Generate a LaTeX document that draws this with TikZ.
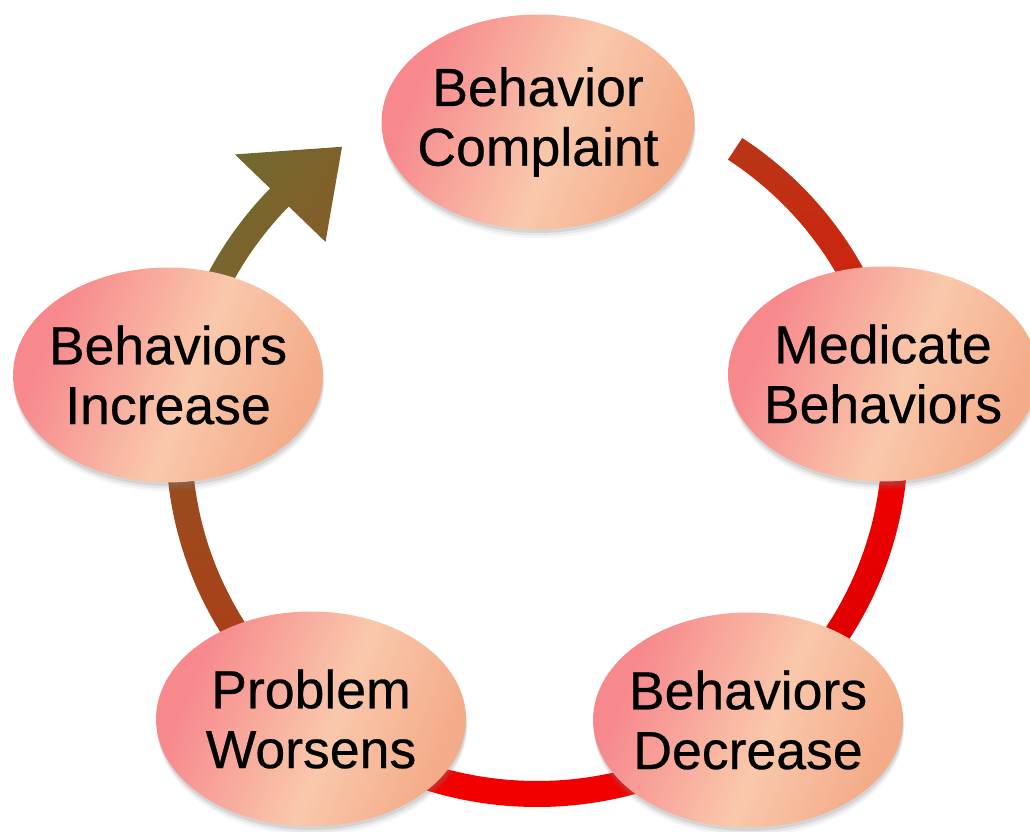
\documentclass[tikz,border=0pt]{standalone}
\usepackage{fontspec}
\setmainfont{Liberation Sans}
\newfontfamily\stagefont{Liberation Sans}[FakeBold=0.5]
\usetikzlibrary{positioning}
\usetikzlibrary{calc}
\usetikzlibrary{shapes.geometric}
\usetikzlibrary{shadows}

\definecolor{ovalpink}{HTML}{F7898D}
\definecolor{ovalpeach}{HTML}{F9C8AB}
\definecolor{ovaltan}{HTML}{F4AB89}
\definecolor{bandrust}{HTML}{B83616}
\definecolor{bandscarlet}{HTML}{DA1A0A}
\definecolor{bandred}{HTML}{F20000}
\definecolor{banddark}{HTML}{D80000}
\definecolor{bandbrown}{HTML}{954F1F}
\definecolor{bandclay}{HTML}{B23A17}
\definecolor{arrowolive}{HTML}{6C6C30}
\definecolor{arrowbrown}{HTML}{8E5826}

\pgfdeclarehorizontalshading{ovalshade}{100bp}{color(0bp)=(ovalpink); color(28bp)=(ovalpink); color(54bp)=(ovalpeach); color(74bp)=(ovaltan); color(100bp)=(ovaltan)}

\tikzset{
  stage/.style={ellipse, minimum width=6.2cm, minimum height=4.3cm,
    inner xsep=-0.2cm, inner ysep=0pt, align=center,
    font={\stagefont\fontsize{30.5}{34}\selectfont},
    shading=ovalshade, shading angle=-22,
    drop shadow={shadow xshift=0.5pt, shadow yshift=-5pt, opacity=0.08},
    drop shadow={shadow xshift=0.5pt, shadow yshift=-3.5pt, opacity=0.12},
    drop shadow={shadow xshift=0.3pt, shadow yshift=-2pt, opacity=0.18}}
}

\begin{document}
\begin{tikzpicture}[x=0.02cm, y=0.02cm]
	\useasboundingbox (0,0) rectangle (1030,831);
	\coordinate (ring) at (537,389);
	% pieces of the ring
	\shade[shift={(ring)}, top color=bandrust, bottom color=bandscarlet] (56.4:371 and 365) arc[start angle=56.4, end angle=15, x radius=371, y radius=365] -- (15:345 and 339) arc[start angle=15, end angle=56.4, x radius=345, y radius=339] -- cycle;
	\shade[shift={(ring)}, top color=bandred, bottom color=banddark] (0:371 and 365) arc[start angle=0, end angle=-48, x radius=371, y radius=365] -- (-48:345 and 339) arc[start angle=-48, end angle=0, x radius=345, y radius=339] -- cycle;
	\fill[shift={(ring)}, color=bandred] (-68:371 and 365) arc[start angle=-68, end angle=-112, x radius=371, y radius=365] -- (-112:345 and 339) arc[start angle=-112, end angle=-68, x radius=345, y radius=339] -- cycle;
	\shade[shift={(ring)}, top color=bandbrown, bottom color=bandclay] (228:371 and 365) arc[start angle=228, end angle=180, x radius=371, y radius=365] -- (180:345 and 339) arc[start angle=180, end angle=228, x radius=345, y radius=339] -- cycle;
	% the arrow back to the top
	\shade[shift={(ring)}, left color=arrowolive, right color=arrowbrown, shading angle=60] (172:371 and 365) arc[start angle=172, end angle=136, x radius=371, y radius=365] -- (136:420 and 414) -- (123:358 and 352) -- (136:294 and 288) -- (136:345 and 339) arc[start angle=136, end angle=172, x radius=345, y radius=339] -- cycle;
	% the five stages
	\node[stage] (complaint) at (538,709) {Behavior\\Complaint};
	\node[stage] (medicate) at (883,457) {Medicate\\Behaviors};
	\node[stage] (decrease) at (748,111) {Behaviors\\Decrease};
	\node[stage] (worsens) at (311,112) {Problem\\Worsens};
	\node[stage] (increase) at (168,456) {Behaviors\\Increase};
\end{tikzpicture}
\end{document}
